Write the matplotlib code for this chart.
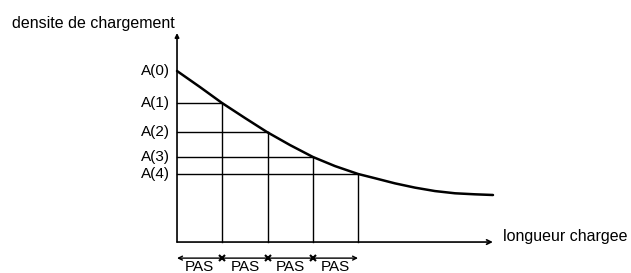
import matplotlib
matplotlib.use("Agg")
import matplotlib.pyplot as plt

# data (x in PAS units, y in relative density)
steps = [0, 1, 2, 3, 4]
A_values = [1.0, 0.813, 0.643, 0.497, 0.398]
A_labels = ["A(0)", "A(1)", "A(2)", "A(3)", "A(4)"]
curve_x = [0, 0.508, 0.994, 1.503, 1.989, 2.497, 3.006, 3.492, 4.0,
           4.376, 4.818, 5.260, 5.702, 6.144, 6.586, 6.983]
curve_y = [1.0, 0.906, 0.813, 0.725, 0.643, 0.567, 0.497, 0.444, 0.398,
           0.373, 0.343, 0.318, 0.298, 0.285, 0.279, 0.275]
pas_label = "PAS"
x_label = "longueur chargee"
y_label = "densite de chargement"

plt.rcParams['font.family'] = ['Liberation Sans', 'DejaVu Sans']
fig = plt.figure(figsize=(6.31, 2.73), dpi=100)
ax = fig.add_axes([0, 0, 1, 1])
ax.set_xlim(-3.912, 10.033)
ax.set_ylim(-0.181, 1.415)
ax.axis('off')

# axes arrows
ax.annotate("", xy=(6.98, 0), xytext=(0, 0),
            arrowprops=dict(arrowstyle='->', lw=1.2, color='black', shrinkA=0, shrinkB=0,
                            mutation_scale=8))
ax.annotate("", xy=(0, 1.222), xytext=(0, 0),
            arrowprops=dict(arrowstyle='-|>', lw=1.2, color='black', shrinkA=0, shrinkB=0,
                            mutation_scale=6))

# grid construction lines
for i in range(1, len(steps)):
    ax.plot([steps[i], steps[i]], [0, A_values[i]], color='black', lw=1.0)
    ax.plot([0, steps[i]], [A_values[i], A_values[i]], color='black', lw=1.0)

# curve
ax.plot(curve_x, curve_y, color='black', lw=1.8, solid_capstyle='round',
        solid_joinstyle='round')

# A labels
for lab, v in zip(A_labels, A_values):
    ax.text(-0.15, v, lab, ha='right', va='center', fontsize=11)

# PAS arrow
ypas = -0.094
ax.annotate("", xy=(steps[-1], ypas), xytext=(steps[0], ypas),
            arrowprops=dict(arrowstyle='<->', lw=1.0, color='black', shrinkA=0, shrinkB=0,
                            mutation_scale=7))
ax.plot(steps[1:-1], [ypas] * (len(steps) - 2), 'x', color='black', ms=5, mew=1.5)
for i in range(len(steps) - 1):
    ax.text((steps[i] + steps[i + 1]) / 2, ypas - 0.012, pas_label, ha='center', va='top',
            fontsize=11)

# axis titles
ax.text(7.2, 0.03, x_label, ha='left', va='center', fontsize=11.5)
ax.text(-3.65, 1.28, y_label, ha='left', va='center', fontsize=11.5)

fig.savefig("out.png", dpi=100, facecolor='white')
